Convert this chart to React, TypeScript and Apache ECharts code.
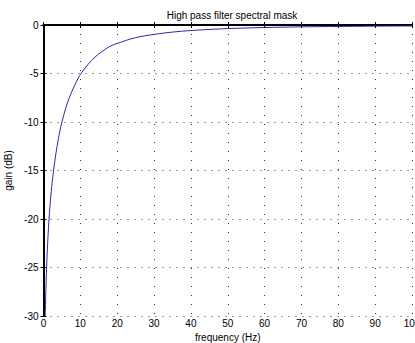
import React, { useEffect, useRef } from "react";
import * as echarts from "echarts";

const freqs = [0.45, 0.5, 0.7, 1, 1.5, 2, 2.5, 3, 4, 5, 6, 7, 8, 9, 10, 12, 14, 16, 18, 20, 25, 30, 35, 40, 45, 50, 60, 70, 80, 90, 100];
const gains = [-30, -29.5, -26.6, -23.5, -20.0, -17.6, -15.7, -14.2, -11.8, -10.0, -8.6, -7.5, -6.6, -5.8, -5.1, -4.1, -3.3, -2.7, -2.2, -1.9, -1.3, -0.97, -0.73, -0.57, -0.46, -0.37, -0.26, -0.19, -0.15, -0.12, -0.1];
const xTicks = [0, 10, 20, 30, 40, 50, 60, 70, 80, 90, 100];
const yTicks = [-30, -25, -20, -15, -10, -5, 0];

const FONT = "Liberation Sans, Arial, sans-serif";

export default function App() {
  const ref = useRef<HTMLDivElement>(null);
  useEffect(() => {
    const chart = echarts.init(ref.current!, null, { renderer: "svg" });
    const data = freqs.map((f, i) => [f, gains[i]]);
    const axisLineMain = { show: true, lineStyle: { color: "#000", width: 2 } };
    const axisLineSec = { show: true, lineStyle: { color: "#000", width: 1.5 } };
    const tick = { show: true, inside: true, length: 3, lineStyle: { color: "#000" } };
    chart.setOption({
      animation: false,
      backgroundColor: "#fff",
      title: {
        text: "High pass filter spectral mask",
        left: 227,
        top: 5,
        textAlign: "center",
        textStyle: { fontFamily: FONT, fontSize: 10, fontWeight: "normal", color: "#000" },
      },
      grid: { left: 43.5, right: 3, top: 25, bottom: 27, containLabel: false, outerBoundsMode: "none" },
      xAxis: [
        {
          type: "value",
          min: xTicks[0],
          max: xTicks[xTicks.length - 1],
          interval: 10,
          position: "bottom",
          name: "frequency (Hz)",
          nameLocation: "middle",
          nameGap: 9,
          nameTextStyle: { fontFamily: FONT, fontSize: 10, color: "#000" },
          axisLine: axisLineMain,
          axisTick: tick,
          axisLabel: { fontFamily: FONT, fontSize: 10, color: "#000", margin: 2 },
          splitLine: { show: true, lineStyle: { color: "#333", type: [1, 8], width: 1 } },
        },
        {
          type: "value",
          min: xTicks[0],
          max: xTicks[xTicks.length - 1],
          interval: 10,
          position: "top",
          axisLine: axisLineSec,
          axisTick: tick,
          axisLabel: { show: false },
          splitLine: { show: false },
        },
      ],
      yAxis: [
        {
          type: "value",
          min: yTicks[0],
          max: yTicks[yTicks.length - 1],
          interval: 5,
          position: "left",
          name: "gain (dB)",
          nameLocation: "middle",
          nameGap: 26,
          nameTextStyle: { fontFamily: FONT, fontSize: 10, color: "#000" },
          axisLine: axisLineMain,
          axisTick: tick,
          axisLabel: { fontFamily: FONT, fontSize: 10, color: "#000", margin: 5 },
          splitLine: { show: true, lineStyle: { color: "#333", type: [1, 6], width: 1 } },
        },
        {
          type: "value",
          min: yTicks[0],
          max: yTicks[yTicks.length - 1],
          interval: 5,
          position: "right",
          axisLine: axisLineSec,
          axisTick: tick,
          axisLabel: { show: false },
          splitLine: { show: false },
        },
      ],
      series: [
        {
          type: "line",
          data,
          xAxisIndex: 0,
          yAxisIndex: 0,
          showSymbol: false,
          smooth: 0.3,
          clip: true,
          lineStyle: { color: "#2a2aa6", width: 1 },
        },
      ],
    });
    return () => chart.dispose();
  }, []);
  return <div ref={ref} style={{ position: "fixed", left: 0, top: 0, width: 415, height: 343 }} />;
}
